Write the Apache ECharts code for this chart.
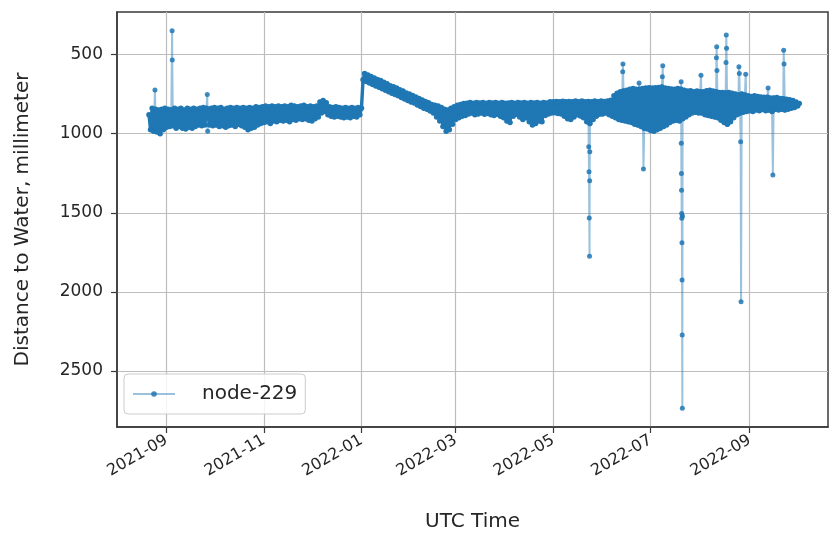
<!DOCTYPE html>
<html><head><meta charset="utf-8">
<script src="https://cdn.jsdelivr.net/npm/echarts@6/dist/echarts.min.js"></script>
<style>html,body{margin:0;padding:0;background:#fff}#c{width:830px;height:539px}</style>
</head><body><div id="c"></div>
<script>
const seriesName = 'node-229';
const xAxisTitle = 'UTC Time';
const yAxisTitle = 'Distance to Water, millimeter';
const yTicks = [500, 1000, 1500, 2000, 2500];
const xTicks = ['2021-09-01', '2021-11-01', '2022-01-01', '2022-03-01', '2022-05-01', '2022-07-01', '2022-09-01'];
const yRange = [231, 2854];
const xRange = ['2021-08-01', '2022-10-20'];

// regular daily readings (the dense band)
const aug2021 = [['2021-08-21',880],['2021-08-22',975],['2021-08-23',840],['2021-08-24',985],['2021-08-25',845],['2021-08-26',990],['2021-08-27',850],['2021-08-28',1000],['2021-08-29',845],['2021-08-30',975],['2021-08-31',840]];
const sep2021 = [['2021-09-01',960],['2021-09-02',845],['2021-09-03',955],['2021-09-04',850],['2021-09-05',950],['2021-09-06',840],['2021-09-07',965],['2021-09-08',845],['2021-09-09',955],['2021-09-10',840],['2021-09-11',965],['2021-09-12',850],['2021-09-13',970],['2021-09-14',840],['2021-09-15',960],['2021-09-16',845],['2021-09-17',965],['2021-09-18',840],['2021-09-19',955],['2021-09-20',845],['2021-09-21',945],['2021-09-22',840],['2021-09-23',950],['2021-09-24',835],['2021-09-25',945],['2021-09-26',840],['2021-09-27',850],['2021-09-28',945],['2021-09-29',840],['2021-09-30',950]];
const oct2021 = [['2021-10-01',835],['2021-10-02',945],['2021-10-03',840],['2021-10-04',955],['2021-10-05',835],['2021-10-06',950],['2021-10-07',845],['2021-10-08',960],['2021-10-09',840],['2021-10-10',950],['2021-10-11',835],['2021-10-12',945],['2021-10-13',840],['2021-10-14',955],['2021-10-15',835],['2021-10-16',940],['2021-10-17',840],['2021-10-18',950],['2021-10-19',835],['2021-10-20',960],['2021-10-21',840],['2021-10-22',975],['2021-10-23',835],['2021-10-24',965],['2021-10-25',840],['2021-10-26',960],['2021-10-27',830],['2021-10-28',945],['2021-10-29',835],['2021-10-30',935],['2021-10-31',830]];
const nov2021 = [['2021-11-01',930],['2021-11-02',825],['2021-11-03',925],['2021-11-04',830],['2021-11-05',935],['2021-11-06',825],['2021-11-07',920],['2021-11-08',830],['2021-11-09',925],['2021-11-10',825],['2021-11-11',915],['2021-11-12',830],['2021-11-13',920],['2021-11-14',825],['2021-11-15',915],['2021-11-16',830],['2021-11-17',925],['2021-11-18',820],['2021-11-19',910],['2021-11-20',825],['2021-11-21',915],['2021-11-22',830],['2021-11-23',905],['2021-11-24',825],['2021-11-25',910],['2021-11-26',820],['2021-11-27',905],['2021-11-28',830],['2021-11-29',915],['2021-11-30',825]];
const dec2021 = [['2021-12-01',920],['2021-12-02',830],['2021-12-03',905],['2021-12-04',825],['2021-12-05',895],['2021-12-06',800],['2021-12-07',870],['2021-12-08',790],['2021-12-09',860],['2021-12-10',805],['2021-12-11',880],['2021-12-12',830],['2021-12-13',890],['2021-12-14',835],['2021-12-15',895],['2021-12-16',830],['2021-12-17',890],['2021-12-18',835],['2021-12-19',895],['2021-12-20',840],['2021-12-21',900],['2021-12-22',835],['2021-12-23',895],['2021-12-24',840],['2021-12-25',900],['2021-12-26',835],['2021-12-27',890],['2021-12-28',840],['2021-12-29',895],['2021-12-30',835],['2021-12-31',880]];
const jan2022 = [['2022-01-01',840],['2022-01-02',660],['2022-01-03',620],['2022-01-04',670],['2022-01-05',629],['2022-01-06',679],['2022-01-07',638],['2022-01-08',690],['2022-01-09',648],['2022-01-10',698],['2022-01-11',657],['2022-01-12',707],['2022-01-13',664],['2022-01-14',716],['2022-01-15',675],['2022-01-16',726],['2022-01-17',685],['2022-01-18',735],['2022-01-19',697],['2022-01-20',744],['2022-01-21',703],['2022-01-22',753],['2022-01-23',712],['2022-01-24',760],['2022-01-25',722],['2022-01-26',772],['2022-01-27',731],['2022-01-28',781],['2022-01-29',743],['2022-01-30',791],['2022-01-31',750]];
const feb2022 = [['2022-02-01',800],['2022-02-02',759],['2022-02-03',806],['2022-02-04',768],['2022-02-05',819],['2022-02-06',778],['2022-02-07',828],['2022-02-08',787],['2022-02-09',840],['2022-02-10',796],['2022-02-11',846],['2022-02-12',805],['2022-02-13',856],['2022-02-14',815],['2022-02-15',870],['2022-02-16',820],['2022-02-17',895],['2022-02-18',825],['2022-02-19',920],['2022-02-20',835],['2022-02-21',955],['2022-02-22',845],['2022-02-23',985],['2022-02-24',850],['2022-02-25',975],['2022-02-26',840],['2022-02-27',940],['2022-02-28',830]];
const mar2022 = [['2022-03-01',910],['2022-03-02',820],['2022-03-03',900],['2022-03-04',815],['2022-03-05',890],['2022-03-06',810],['2022-03-07',885],['2022-03-08',808],['2022-03-09',875],['2022-03-10',803],['2022-03-11',870],['2022-03-12',808],['2022-03-13',880],['2022-03-14',803],['2022-03-15',875],['2022-03-16',806],['2022-03-17',870],['2022-03-18',803],['2022-03-19',878],['2022-03-20',808],['2022-03-21',872],['2022-03-22',803],['2022-03-23',880],['2022-03-24',806],['2022-03-25',885],['2022-03-26',803],['2022-03-27',878],['2022-03-28',808],['2022-03-29',890],['2022-03-30',803],['2022-03-31',900]];
const apr2022 = [['2022-04-01',808],['2022-04-02',920],['2022-04-03',806],['2022-04-04',930],['2022-04-05',803],['2022-04-06',890],['2022-04-07',808],['2022-04-08',878],['2022-04-09',803],['2022-04-10',895],['2022-04-11',806],['2022-04-12',910],['2022-04-13',803],['2022-04-14',900],['2022-04-15',808],['2022-04-16',925],['2022-04-17',803],['2022-04-18',945],['2022-04-19',806],['2022-04-20',935],['2022-04-21',803],['2022-04-22',920],['2022-04-23',808],['2022-04-24',925],['2022-04-25',803],['2022-04-26',885],['2022-04-27',806],['2022-04-28',875],['2022-04-29',798],['2022-04-30',870]];
const may2022 = [['2022-05-01',798],['2022-05-02',868],['2022-05-03',796],['2022-05-04',872],['2022-05-05',798],['2022-05-06',875],['2022-05-07',795],['2022-05-08',890],['2022-05-09',798],['2022-05-10',905],['2022-05-11',796],['2022-05-12',910],['2022-05-13',798],['2022-05-14',895],['2022-05-15',794],['2022-05-16',880],['2022-05-17',798],['2022-05-18',888],['2022-05-19',793],['2022-05-20',900],['2022-05-21',798],['2022-05-22',925],['2022-05-23',796],['2022-05-24',935],['2022-05-25',798],['2022-05-26',910],['2022-05-27',793],['2022-05-28',890],['2022-05-29',798],['2022-05-30',878],['2022-05-31',794]];
const jun2022 = [['2022-06-01',875],['2022-06-02',796],['2022-06-03',870],['2022-06-04',793],['2022-06-05',880],['2022-06-06',788],['2022-06-07',890],['2022-06-08',760],['2022-06-09',900],['2022-06-10',745],['2022-06-11',910],['2022-06-12',735],['2022-06-13',915],['2022-06-14',730],['2022-06-15',920],['2022-06-16',725],['2022-06-17',925],['2022-06-18',720],['2022-06-19',930],['2022-06-20',715],['2022-06-21',940],['2022-06-22',720],['2022-06-23',945],['2022-06-24',720],['2022-06-25',955],['2022-06-26',715],['2022-06-27',965],['2022-06-28',712],['2022-06-29',970],['2022-06-30',710]];
const jul2022 = [['2022-07-01',980],['2022-07-02',712],['2022-07-03',985],['2022-07-04',710],['2022-07-05',975],['2022-07-06',708],['2022-07-07',965],['2022-07-08',705],['2022-07-09',955],['2022-07-10',712],['2022-07-11',945],['2022-07-12',715],['2022-07-13',930],['2022-07-14',718],['2022-07-15',920],['2022-07-16',720],['2022-07-17',915],['2022-07-18',715],['2022-07-19',920],['2022-07-20',720],['2022-07-21',905],['2022-07-22',725],['2022-07-23',895],['2022-07-24',730],['2022-07-25',880],['2022-07-26',728],['2022-07-27',870],['2022-07-28',735],['2022-07-29',865],['2022-07-30',730],['2022-07-31',870]];
const aug2022 = [['2022-08-01',735],['2022-08-02',870],['2022-08-03',735],['2022-08-04',880],['2022-08-05',728],['2022-08-06',885],['2022-08-07',725],['2022-08-08',890],['2022-08-09',730],['2022-08-10',895],['2022-08-11',735],['2022-08-12',900],['2022-08-13',740],['2022-08-14',915],['2022-08-15',740],['2022-08-16',930],['2022-08-17',742],['2022-08-18',940],['2022-08-19',740],['2022-08-20',925],['2022-08-21',745],['2022-08-22',900],['2022-08-23',750],['2022-08-24',880],['2022-08-25',755],['2022-08-26',870],['2022-08-27',750],['2022-08-28',865],['2022-08-29',755],['2022-08-30',860],['2022-08-31',760]];
const sep2022 = [['2022-09-01',855],['2022-09-02',765],['2022-09-03',860],['2022-09-04',760],['2022-09-05',850],['2022-09-06',765],['2022-09-07',855],['2022-09-08',768],['2022-09-09',848],['2022-09-10',770],['2022-09-11',855],['2022-09-12',770],['2022-09-13',850],['2022-09-14',775],['2022-09-15',860],['2022-09-16',775],['2022-09-17',845],['2022-09-18',772],['2022-09-19',850],['2022-09-20',778],['2022-09-21',845],['2022-09-22',780],['2022-09-23',850],['2022-09-24',782],['2022-09-25',845],['2022-09-26',785],['2022-09-27',840],['2022-09-28',790],['2022-09-29',835],['2022-09-30',800]];
const oct2022 = [['2022-10-01',825],['2022-10-02',810]];

// short excursions (spikes), each between two regular readings
const spike20210824 = [['2021-08-24',985],['2021-08-24 18:00',724],['2021-08-25',845]];
const spike20210904 = [['2021-09-04',850],['2021-09-04 12:00',350],['2021-09-04 14:00',535],['2021-09-05',950]];
const spike20210926 = [['2021-09-26',840],['2021-09-26 12:00',752],['2021-09-26 18:00',985],['2021-09-27',850]];
const spike20220523 = [['2022-05-23',796],['2022-05-23 06:00',1083],['2022-05-23 10:00',1241],['2022-05-23 14:00',1533],['2022-05-23 18:00',1774],['2022-05-23 20:00',1298],['2022-05-23 22:00',1114],['2022-05-24',935]];
const spike20220613 = [['2022-06-13',915],['2022-06-13 12:00',609],['2022-06-13 16:00',560],['2022-06-14',730]];
const spike20220623 = [['2022-06-23',945],['2022-06-23 18:00',680],['2022-06-24',720]];
const spike20220626 = [['2022-06-26',715],['2022-06-26 12:00',1224],['2022-06-27',965]];
const spike20220708 = [['2022-07-08',705],['2022-07-08 08:00',640],['2022-07-08 14:00',570],['2022-07-09',955]];
const spike20220720 = [['2022-07-20',720],['2022-07-20 02:00',672],['2022-07-20 04:00',1061],['2022-07-20 06:00',1251],['2022-07-20 08:00',1357],['2022-07-20 10:00',1504],['2022-07-20 12:00',1535],['2022-07-20 14:00',1690],['2022-07-20 16:00',1925],['2022-07-20 18:00',2273],['2022-07-20 20:00',2736],['2022-07-20 22:00',1520],['2022-07-21',905]];
const spike20220801 = [['2022-08-01',735],['2022-08-01 12:00',630],['2022-08-02',870]];
const spike20220811 = [['2022-08-11',735],['2022-08-11 04:00',520],['2022-08-11 08:00',451],['2022-08-11 12:00',600],['2022-08-12',900]];
const spike20220817 = [['2022-08-17',742],['2022-08-17 04:00',550],['2022-08-17 08:00',377],['2022-08-17 12:00',460],['2022-08-18',940]];
const spike20220825 = [['2022-08-25',755],['2022-08-25 06:00',577],['2022-08-25 12:00',620],['2022-08-26',870]];
const spike20220826 = [['2022-08-26',870],['2022-08-26 08:00',1051],['2022-08-26 14:00',2062],['2022-08-27',750]];
const spike20220829 = [['2022-08-29',755],['2022-08-29 12:00',625],['2022-08-30',860]];
const spike20220912 = [['2022-09-12',770],['2022-09-12 12:00',712],['2022-09-13',850]];
const spike20220915 = [['2022-09-15',860],['2022-09-15 12:00',1262],['2022-09-16',775]];
const spike20220922 = [['2022-09-22',780],['2022-09-22 06:00',472],['2022-09-22 12:00',560],['2022-09-23',850]];

const bandReadings = [].concat(aug2021, sep2021, oct2021, nov2021, dec2021, jan2022, feb2022, mar2022, apr2022, may2022, jun2022, jul2022, aug2022, sep2022, oct2022);
const spikes = [spike20210824, spike20210904, spike20210926, spike20220523, spike20220613, spike20220623, spike20220626, spike20220708, spike20220720, spike20220801, spike20220811, spike20220817, spike20220825, spike20220826, spike20220829, spike20220912, spike20220915, spike20220922];

const ts = s => echarts.time.parse(s).getTime();
const pad = n => (n < 10 ? '0' : '') + n;
const fmtMonth = v => { const d = new Date(v); return d.getFullYear() + '-' + pad(d.getMonth() + 1); };
const toXY = arr => arr.map(r => [ts(r[0]), r[1]]);

const FONT = 'DejaVu Sans';
const TXT = '#262626';
const BLUE = '#1f77b4';

const spikeSeries = spikes.map(s => ({
  name: seriesName, type: 'line', data: toXY(s),
  symbol: 'circle', symbolSize: 5, showSymbol: true, showAllSymbol: true,
  lineStyle: {color: BLUE, width: 2, opacity: 0.45},
  itemStyle: {color: BLUE, opacity: 0.85, borderWidth: 0},
  emphasis: {disabled: true}, clip: true, z: 2
}));
const bandSeries = {
  name: seriesName, type: 'line', data: toXY(bandReadings),
  symbol: 'circle', symbolSize: 5.5, showSymbol: true, showAllSymbol: true,
  lineStyle: {color: BLUE, width: 3.4, opacity: 1},
  itemStyle: {color: BLUE, opacity: 1, borderWidth: 0},
  emphasis: {disabled: true}, clip: true, z: 3
};

const chart = echarts.init(document.getElementById('c'), null, {renderer: 'canvas'});
chart.setOption({
  animation: false,
  backgroundColor: '#ffffff',
  grid: {left: 117, right: 2, top: 12, bottom: 112, show: true, borderColor: '#3a3a3a', borderWidth: 1.5, outerBoundsMode: 'none'},
  legend: {
    data: [seriesName], left: 124, top: 374, orient: 'vertical',
    padding: [10, 8, 10, 8], itemWidth: 42, itemHeight: 7, itemGap: 0,
    borderColor: '#cccccc', borderWidth: 1, borderRadius: 4, backgroundColor: 'rgba(255,255,255,0.85)',
    textStyle: {fontFamily: FONT, fontSize: 20, color: TXT, padding: [0, 0, 0, 22]}
  },
  xAxis: {
    type: 'value', min: ts(xRange[0]), max: ts(xRange[1]), scale: true,
    name: xAxisTitle, nameLocation: 'middle', nameGap: 85,
    nameTextStyle: {fontFamily: FONT, fontSize: 20, color: TXT},
    axisLine: {show: true, onZero: false, lineStyle: {color: '#3a3a3a', width: 1.5}},
    axisTick: {show: true, length: 6, customValues: xTicks.map(ts), lineStyle: {color: '#3a3a3a', width: 1.2}},
    axisLabel: {customValues: xTicks.map(ts), rotate: 30, margin: 12, fontFamily: FONT, fontSize: 16, color: TXT, formatter: fmtMonth},
    splitLine: {show: true, lineStyle: {color: '#bdbdbd', width: 1.2}}
  },
  yAxis: {
    type: 'value', inverse: true, min: yRange[0], max: yRange[1],
    name: yAxisTitle, nameLocation: 'middle', nameGap: 84, nameRotate: 90,
    nameTextStyle: {fontFamily: FONT, fontSize: 20, color: TXT},
    axisLine: {show: true, onZero: false, lineStyle: {color: '#3a3a3a', width: 1.5}},
    axisTick: {show: true, length: 6, customValues: yTicks, lineStyle: {color: '#3a3a3a', width: 1.2}},
    axisLabel: {customValues: yTicks, margin: 14, fontFamily: FONT, fontSize: 17, color: TXT, formatter: v => String(v)},
    splitLine: {show: true, lineStyle: {color: '#bdbdbd', width: 1.2}}
  },
  series: spikeSeries.concat([bandSeries])
});
</script></body></html>
